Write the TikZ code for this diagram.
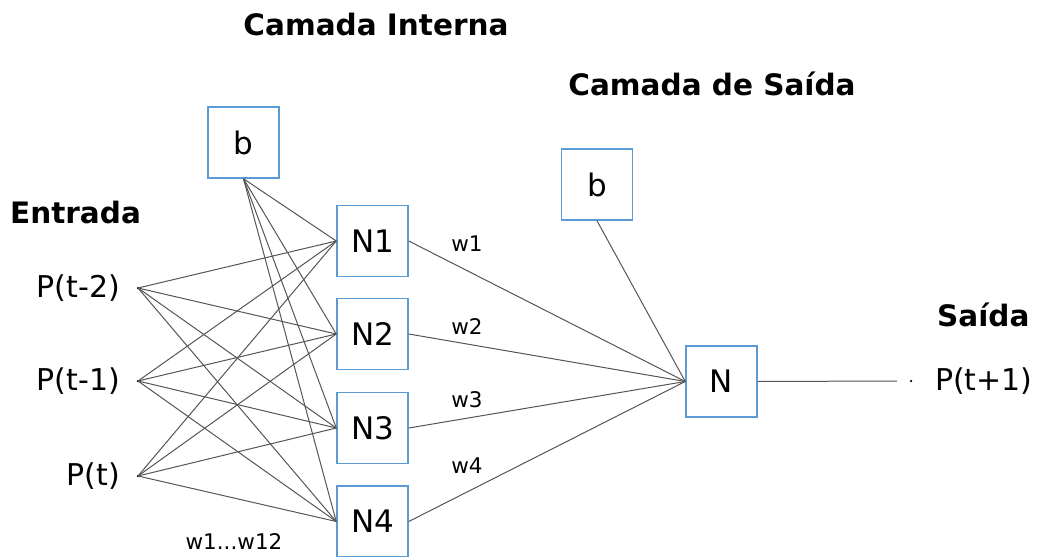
\documentclass[tikz,border=0pt]{standalone}
\usepackage{fontspec}
\setmainfont{DejaVu Sans}
\begin{document}
\begin{tikzpicture}[x=1pt,y=-1pt,
  neuron/.style={draw=boxblue,line width=1.5pt,fill=white,minimum width=71pt,minimum height=71pt,inner sep=0pt,
    font=\fontsize{31}{35}\selectfont},
  head/.style={font=\fontsize{29.5}{34}\selectfont\bfseries,inner sep=0pt},
  inlabel/.style={font=\fontsize{30}{34}\selectfont,inner sep=0pt},
  wlabel/.style={font=\fontsize{21.5}{25}\selectfont,inner sep=0pt},
  wire/.style={draw=wiregray,line width=1pt},
  dotpt/.style={circle,fill=black,inner sep=0pt,minimum size=2.5pt}]
\definecolor{boxblue}{HTML}{5B9BD5}
\definecolor{wiregray}{HTML}{555555}
\useasboundingbox (0,0) rectangle (1037,557);

% headings
\node[head] (hint) at (376,25) {Camada Interna};
\node[head] (hout) at (712,84) {Camada de Saída};
\node[head,anchor=west] (hin) at (10,212) {Entrada};
\node[head,anchor=west] (hsai) at (937,315) {Saída};

% input points
\node[dotpt] (x1) at (138,288) {};
\node[dotpt] (x2) at (138,381) {};
\node[dotpt] (x3) at (138,476) {};
\node[inlabel,anchor=east] (lx1) at (120,288) {P(t-2)};
\node[inlabel,anchor=east] (lx2) at (120,381) {P(t-1)};
\node[inlabel,anchor=east] (lx3) at (120,476) {P(t)};

% hidden layer
\node[neuron] (b1) at (243.5,142.5) {b};
\node[neuron] (n1) at (372.5,241) {N1};
\node[neuron] (n2) at (372.5,334) {N2};
\node[neuron] (n3) at (372.5,428) {N3};
\node[neuron] (n4) at (372.5,521.5) {N4};

% output layer
\node[neuron] (b2) at (597,184.5) {b};
\node[neuron] (n) at (721.5,381.5) {N};

% output point
\node[dotpt] (y) at (911,381) {};
\node[inlabel,anchor=west] (ly) at (935,381) {P(t+1)};
\coordinate (yend) at (897,381);

% connections
\foreach \s in {x1,x2,x3}{
  \foreach \t in {n1,n2,n3,n4}{
    \draw[wire] (\s.center) -- (\t.west);
  }
}
\foreach \t in {n1,n2,n3,n4}{
  \draw[wire] (b1.south) -- (\t.west);
}
\foreach \t in {n1,n2,n3,n4}{
  \draw[wire] (\t.east) -- (n.west);
}
\draw[wire] (b2.south) -- (n.west);
\draw[wire] (n.east) -- (yend);

% weight labels
\node[wlabel] (w1) at (467,244) {w1};
\node[wlabel] (w2) at (467,327) {w2};
\node[wlabel] (w3) at (467,400) {w3};
\node[wlabel] (w4) at (467,466) {w4};
\node[wlabel,anchor=south] (wall) at (234,550) {w1...w12};
\end{tikzpicture}
\end{document}
